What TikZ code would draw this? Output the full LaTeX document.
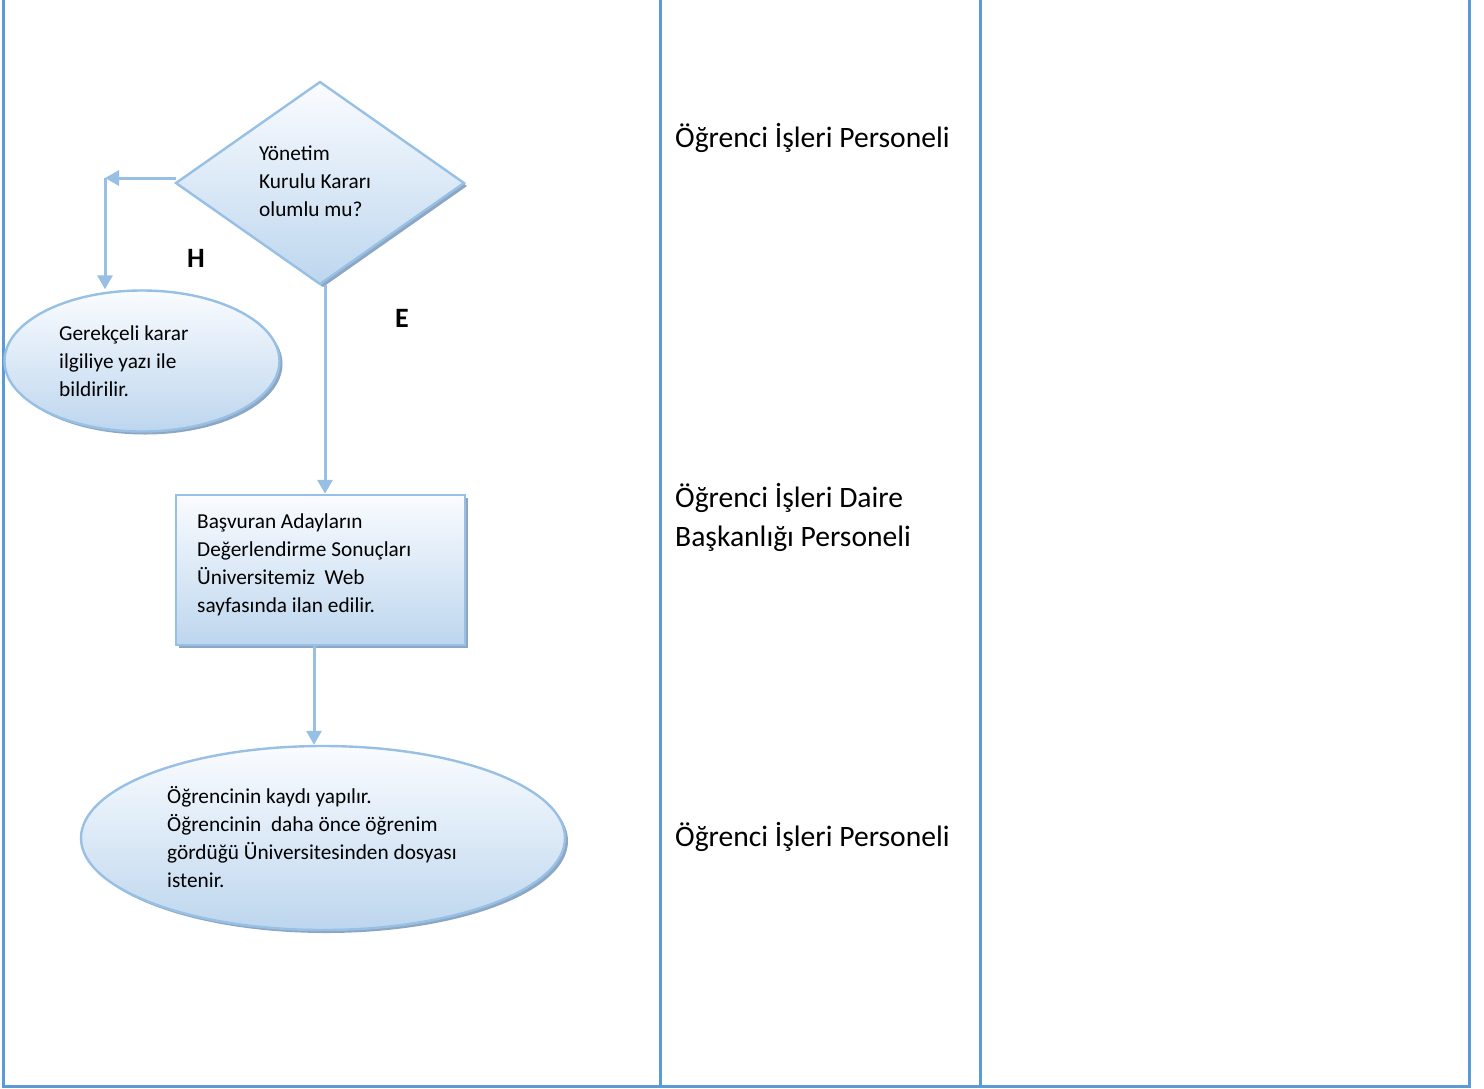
\documentclass[tikz,border=0pt]{standalone}
\usepackage{fontspec}
\setmainfont{Carlito}
\usetikzlibrary{shapes.geometric,arrows.meta,shadows}
\definecolor{tableblue}{RGB}{91,155,213}
\definecolor{edgeblue}{RGB}{152,192,229}
\definecolor{fillbot}{RGB}{189,214,238}
\definecolor{filltop}{RGB}{250,252,255}
\definecolor{shadowc}{RGB}{140,166,196}
\tikzset{
  tline/.style={draw=tableblue,line width=3pt},
  shapebox/.style={draw=edgeblue,line width=2.4pt,top color=filltop,bottom color=fillbot,
     drop shadow={shadow xshift=3pt,shadow yshift=-3pt,fill=shadowc,opacity=1}},
  arr/.style={draw=edgeblue,line width=3pt,-{Triangle[width=15pt,length=14pt]}},
  btxt/.style={font=\fontsize{21.3}{28}\selectfont,align=left,inner sep=0pt,anchor=west},
  rtxt/.style={font=\fontsize{29.6}{39}\selectfont,align=left,inner sep=0pt,anchor=west},
  lbl/.style={font=\bfseries\fontsize{28}{30}\selectfont,inner sep=0pt}
}
\begin{document}
\begin{tikzpicture}[x=1pt,y=-1pt]
\useasboundingbox (0,0) rectangle (1484,1088);
\fill[white] (0,0) rectangle (1484,1088);
% table
\draw[tline] (3,0) -- (3,1086);
\draw[tline] (660,0) -- (660,1086);
\draw[tline] (980,0) -- (980,1086);
\draw[tline] (1469,0) -- (1469,1086);
\draw[tline] (1.5,1086) -- (1470.5,1086);
% shapes
\node[shapebox,diamond,minimum width=289pt,minimum height=203pt,inner sep=0pt] (d) at (320,183) {};
\node[btxt] (dt) at (259,181) {Yönetim\\Kurulu Kararı\\olumlu mu?};
\node[shapebox,ellipse,minimum width=275pt,minimum height=141pt,inner sep=0pt] (e1) at (142,361) {};
\node[btxt] (e1t) at (59,361) {Gerekçeli karar\\ilgiliye yazı ile\\bildirilir.};
\node[shapebox,rectangle,minimum width=289pt,minimum height=150pt,inner sep=0pt] (r) at (320.5,570) {};
\node[btxt] (rt) at (197,565) {Başvuran Adayların\\Değerlendirme Sonuçları\\Üniversitemiz\ \ Web\\sayfasında ilan edilir.};
\node[shapebox,ellipse,minimum width=484pt,minimum height=184pt,inner sep=0pt] (e2) at (323,838) {};
\node[btxt] (e2t) at (167,837) {Öğrencinin kaydı yapılır.\\Öğrencinin\ \ daha önce öğrenim\\gördüğü Üniversitesinden dosyası\\istenir.};
% connectors
\coordinate (c0) at (176,178);
\coordinate (c1) at (105,178);
\draw[arr] (c0) -- (c1);
\draw[arr] (c1) -- (c1 |- e1.north);
\coordinate (c3) at (325,285);
\draw[arr] (c3) -- (c3 |- r.north);
\coordinate (c2) at (314,645);
\draw[arr] (c2) -- (c2 |- e2.north);
% labels
\node[lbl] (h) at (196,258) {H};
\node[lbl] (ee) at (402,318) {E};
% right column
\node[rtxt] (p1) at (675,138) {Öğrenci İşleri Personeli};
\node[rtxt] (p2) at (675,517.5) {Öğrenci İşleri Daire\\Başkanlığı Personeli};
\node[rtxt] (p3) at (675,837) {Öğrenci İşleri Personeli};
\end{tikzpicture}
\end{document}
